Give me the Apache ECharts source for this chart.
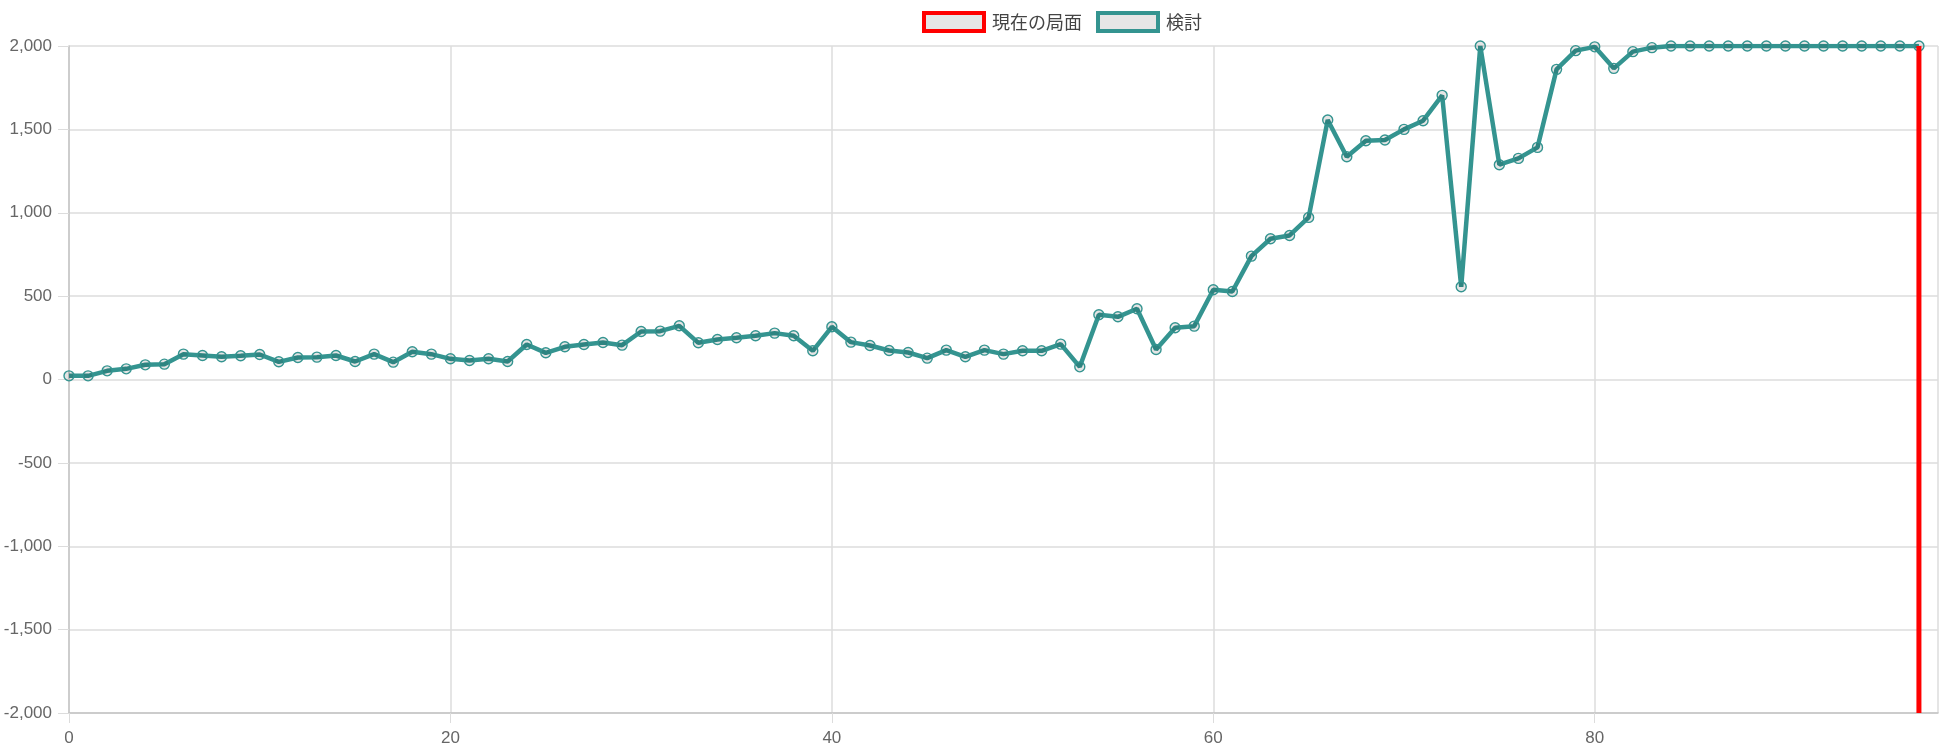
<!DOCTYPE html>
<html>
<head>
<meta charset="utf-8">
<script src="https://cdn.jsdelivr.net/npm/echarts@6/dist/echarts.min.js"></script>
<style>
html,body{margin:0;padding:0;background:#fff;}
#chart{width:1942px;height:753px;}
</style>
</head>
<body>
<div id="chart"></div>
<script>
// Series names (legend)
const seriesNames = ['現在の局面', '検討'];

// Evaluation value per move (index = move number), clipped to ±2000
const evalValues = [
  22, 22, 52, 64, 88, 92, 152, 144, 136, 142,
  150, 106, 132, 134, 144, 108, 152, 104, 166, 152,
  124, 114, 124, 108, 210, 160, 196, 210, 222, 206,
  288, 290, 322, 220, 240, 250, 262, 278, 262, 172,
  316, 224, 204, 174, 162, 128, 176, 136, 176, 152,
  172, 172, 212, 76, 388, 376, 424, 180, 310, 320,
  538, 528, 740, 844, 864, 972, 1556, 1336, 1432, 1436,
  1500, 1552, 1704, 556, 2000, 1288, 1326, 1392, 1860, 1972,
  1995, 1866, 1966, 1990, 2000, 2000, 2000, 2000, 2000, 2000,
  2000, 2000, 2000, 2000, 2000, 2000, 2000, 2000
];

// Current position marker: move number and vertical extent
const currentMove = 97;
const currentRange = [-2000, 2000];

// Axis settings
const yMin = -2000, yMax = 2000, yStep = 500;
const xMin = 0, xMax = 98, xStep = 20;

const teal = '#349490';
const red = '#ff0000';

const chart = echarts.init(document.getElementById('chart'), null, {renderer: 'canvas'});

const tickFont = {color: '#666', fontSize: 17, fontFamily: '"Liberation Sans", Arial, sans-serif'};

chart.setOption({
  animation: false,
  backgroundColor: '#fff',
  grid: {left: 69, right: 4, top: 46, bottom: 40, containLabel: false},
  legend: {
    left: 917,
    top: 6,
    itemWidth: 60,
    itemHeight: 18,
    itemGap: 14,
    icon: 'rect',
    textStyle: {color: '#444', fontSize: 18, fontFamily: '"Noto Sans CJK JP", sans-serif', padding: [0, 0, 0, 3]},
    data: [
      {name: seriesNames[0], itemStyle: {color: '#e6e6e6', borderColor: red, borderWidth: 4}},
      {name: seriesNames[1], itemStyle: {color: '#e6e6e6', borderColor: teal, borderWidth: 4}}
    ]
  },
  xAxis: {
    type: 'value',
    min: xMin, max: xMax, interval: xStep,
    axisLine: {show: true, onZero: false, lineStyle: {color: '#c4c4c4', width: 1.5}},
    axisTick: {show: true, length: 10, lineStyle: {color: '#dcdcdc'}},
    axisLabel: Object.assign({margin: 17, showMaxLabel: false}, tickFont),
    splitLine: {show: true, lineStyle: {color: '#dcdcdc', width: 1.5}}
  },
  yAxis: {
    type: 'value',
    min: yMin, max: yMax, interval: yStep,
    axisLine: {show: true, onZero: false, lineStyle: {color: '#c4c4c4', width: 1.5}},
    axisTick: {show: true, length: 11, lineStyle: {color: '#dcdcdc'}},
    axisLabel: Object.assign({margin: 17}, tickFont),
    splitLine: {show: true, lineStyle: {color: '#dcdcdc', width: 1.5}}
  },
  series: [
    {
      name: seriesNames[0],
      type: 'line',
      z: 5,
      showSymbol: false,
      symbol: 'none',
      lineStyle: {color: red, width: 5},
      itemStyle: {color: red},
      data: currentRange.map(v => [currentMove, v])
    },
    {
      name: seriesNames[1],
      type: 'line',
      z: 3,
      symbol: 'circle',
      symbolSize: 10,
      showAllSymbol: true,
      lineStyle: {color: teal, width: 4.5},
      itemStyle: {color: 'rgba(0,0,0,0.1)', borderColor: teal, borderWidth: 1.4},
      data: evalValues.map((v, i) => [i, v])
    }
  ]
});
</script>
</body>
</html>
